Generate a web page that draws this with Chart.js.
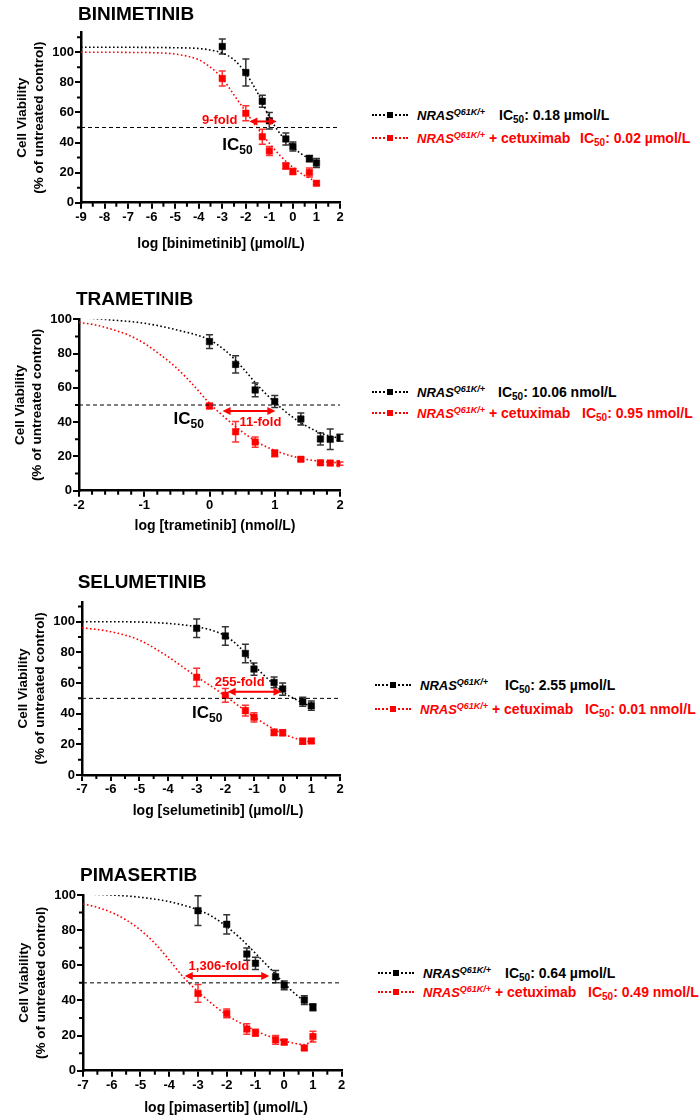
<!DOCTYPE html>
<html>
<head>
<meta charset="utf-8">
<script src="https://cdn.jsdelivr.net/npm/chart.js@4.4.1/dist/chart.umd.min.js"></script>
<style>
  body { margin: 0; background: #fff; width: 700px; height: 1120px; position: relative; overflow: hidden;
         font-family: "Liberation Sans", Arial, Helvetica, sans-serif; }
  canvas { position: absolute; left: 0; }
  .row { position: absolute; height: 18px; line-height: 18px; font-weight: bold; font-size: 14px; white-space: nowrap; color: #000; }
  .row.red { color: #ff0000; }
  .mk { position: absolute; left: 0; top: 8px; width: 36px; border-top: 2px dotted currentColor; }
  .mk::after { content: ''; position: absolute; left: 15px; top: -4px; width: 6px; height: 6px; background: currentColor; }
  .nm { position: absolute; top: 0; }
  .nm i { font-size: 13px; }
  .nm sup { font-size: 9px; font-style: italic; line-height: 0; vertical-align: 5px; }
  .ic { position: absolute; top: 0; }
  .ic sub { font-size: 10px; line-height: 0; vertical-align: -3px; }
</style>
</head>
<body>
<canvas id="c1" width="360" height="260" style="top:0px"></canvas>
<canvas id="c2" width="360" height="260" style="top:280px"></canvas>
<canvas id="c3" width="360" height="260" style="top:560px"></canvas>
<canvas id="c4" width="360" height="280" style="top:840px"></canvas>

<!-- legends -->
<div class="row" style="left:372px;top:106px"><span class="mk"></span><span class="nm" style="left:45px"><i>NRAS</i><sup>Q61K/+</sup></span><span class="ic" style="left:127px">IC<sub>50</sub>: 0.18 µmol/L</span></div>
<div class="row red" style="left:372px;top:129px"><span class="mk"></span><span class="nm" style="left:45px"><i>NRAS</i><sup>Q61K/+</sup> + cetuximab</span><span class="ic" style="left:208px">IC<sub>50</sub>: 0.02 µmol/L</span></div>

<div class="row" style="left:372px;top:383px"><span class="mk"></span><span class="nm" style="left:45px"><i>NRAS</i><sup>Q61K/+</sup></span><span class="ic" style="left:126px">IC<sub>50</sub>: 10.06 nmol/L</span></div>
<div class="row red" style="left:372px;top:404px"><span class="mk"></span><span class="nm" style="left:45px"><i>NRAS</i><sup>Q61K/+</sup> + cetuximab</span><span class="ic" style="left:210px">IC<sub>50</sub>: 0.95 nmol/L</span></div>

<div class="row" style="left:375px;top:676px"><span class="mk"></span><span class="nm" style="left:45px"><i>NRAS</i><sup>Q61K/+</sup></span><span class="ic" style="left:130px">IC<sub>50</sub>: 2.55 µmol/L</span></div>
<div class="row red" style="left:375px;top:700px"><span class="mk"></span><span class="nm" style="left:45px"><i>NRAS</i><sup>Q61K/+</sup> + cetuximab</span><span class="ic" style="left:210px">IC<sub>50</sub>: 0.01 nmol/L</span></div>

<div class="row" style="left:378px;top:964px"><span class="mk"></span><span class="nm" style="left:45px"><i>NRAS</i><sup>Q61K/+</sup></span><span class="ic" style="left:127px">IC<sub>50</sub>: 0.64 µmol/L</span></div>
<div class="row red" style="left:378px;top:983px"><span class="mk"></span><span class="nm" style="left:45px"><i>NRAS</i><sup>Q61K/+</sup> + cetuximab</span><span class="ic" style="left:210px">IC<sub>50</sub>: 0.49 nmol/L</span></div>

<script>
// log doses used in the panels
const doseX = [-3, -2, -1.3, -1, -0.3, 0, 0.7, 1];
const trameX = [0, 0.4, 0.7, 1, 1.4, 1.7, 1.85, 2];

// Binimetinib
const binBlack = [103.8, 86.5, 67.4, 54.5, 42.4, 37.3, 29.3, 26.4];
const binBlackErr = [5, 9, 4, 5.5, 4, 3, 2, 3];
const binRed = [82.5, 59.4, 43.9, 34.4, 24.4, 20.8, 20.0, 12.9];
const binRedErr = [5, 5, 5, 3, 2, 2, 3, 1];
const binCurveX = [-9, -8, -7, -6, -5, -4, -3.5, -3, -2.5, -2, -1.5, -1, -0.5, 0, 0.5, 1];
const binCurveBlack = [103.3, 103.3, 103.3, 103.2, 103.0, 102.5, 101.5, 99.5, 95, 86, 73, 57, 45, 37, 31, 27.5];
const binCurveRed = [100, 100, 99.9, 99.7, 98.8, 95, 90, 82.7, 71.6, 60.5, 49.4, 39.5, 30.6, 23.5, 18, 14];

// Trametinib
const traBlack = [87, 73.7, 58.8, 52, 41.8, 30.2, 30, 30.9];
const traBlackErr = [4, 5, 4, 3.5, 3.5, 3.5, 6, 2];
const traRed = [49.4, 34.4, 28.4, 21.8, 18.3, 16.3, 16.1, 15.8];
const traRedErr = [1.5, 6, 3, 2, 1, 1, 1, 1];
const traCurveBlackX = [-1.85, -1.5, -1, -0.5, 0, 0.25, 0.5, 0.75, 1, 1.25, 1.5, 1.75, 2];
const traCurveBlack = [100.6, 99.6, 97.7, 93.8, 88, 81.5, 72, 61, 51.6, 43.6, 37.4, 33, 30.5];
const traCurveRedX = [-2, -1.75, -1.5, -1.25, -1, -0.75, -0.5, -0.25, 0, 0.25, 0.5, 0.75, 1, 1.25, 1.5, 1.75, 2];
const traCurveRed = [98.2, 96.7, 94.2, 90.9, 86, 79.2, 71.4, 61.7, 51, 42.2, 34.4, 28.0, 23.5, 20.3, 18.2, 16.9, 16.2];

// Selumetinib
const selBlack = [95.7, 90.7, 79.3, 69.1, 60.4, 56.1, 47.8, 45.2];
const selBlackErr = [6, 6, 6, 4, 3.5, 4, 3, 3];
const selRed = [63.7, 52, 42, 37.6, 27.8, 27.6, 22, 22.2];
const selRedErr = [6, 4.5, 3.5, 3, 2, 2, 2, 1.5];
const selCurveBlackX = [-7, -6, -5, -4, -3, -2.5, -2, -1.5, -1, -0.5, 0, 0.5, 1];
const selCurveBlack = [100, 100, 99.8, 98.9, 96.7, 94.6, 90.7, 83.3, 71.7, 62.4, 54.3, 48.9, 44.6];
const selCurveRedX = [-7, -6, -5, -4, -3.5, -3, -2.5, -2, -1.5, -1, -0.5, 0, 0.5, 1];
const selCurveRed = [96.1, 93.5, 88, 77.2, 70.7, 64.1, 58, 51.5, 44.6, 38, 32.0, 27.0, 23.6, 21.4];

// Pimasertib
const pimBlack = [91.1, 83.3, 66.4, 61.1, 53.5, 48.6, 40.2, 36.1];
const pimBlackErr = [8.5, 5.5, 3.5, 3.5, 3.5, 2.5, 2.5, 2];
const pimRed = [44, 32.6, 23.7, 21.6, 17.6, 16.3, 12.9, 19.4];
const pimRedErr = [5, 2.5, 3, 2, 2.5, 1.5, 1, 3];
const pimCurveBlackX = [-6.75, -6, -5, -4, -3, -2.5, -2, -1.5, -1, -0.5, 0, 0.5, 1];
const pimCurveBlack = [100.5, 100, 98.7, 96.2, 91.5, 87.7, 82, 75, 66.8, 58.3, 49.7, 42.1, 36.4];
const pimCurveRedX = [-7, -6.5, -6, -5.5, -5, -4.5, -4, -3.5, -3, -2.5, -2, -1.5, -1, -0.5, 0, 0.5, 0.7, 1];
const pimCurveRed = [94.9, 93, 90, 85.8, 80, 72.5, 63, 53.1, 45, 38, 31.7, 26.9, 22.8, 19.4, 16.9, 15.2, 14.8, 17.5];

const FONT = '"Liberation Sans", Arial, Helvetica, sans-serif';
const RED = '#ff0000';

function pts(xs, ys) {
    return xs.map((x, i) => ({ x: x, y: ys[i] }));
}

function tickList(min, max, step) {
    const out = [];
    for (let v = min; v <= max + 1e-9; v += step) out.push(Math.round(v * 100) / 100);
    return out;
}

const isMajorX = v => Math.abs(v - Math.round(v)) < 1e-6;
const isMajorY = v => v % 20 === 0;

// error bars, minor ticks, fold arrow, IC50 label and panel texts
const annotate = {
    id: 'annotate',
    beforeDatasetsDraw(chart) {
        const { ctx } = chart;
        const xs = chart.scales.x, ys = chart.scales.y;
        chart.data.datasets.forEach(ds => {
            if (!ds.errs) return;
            ctx.save();
            ctx.strokeStyle = ds.errColor;
            ctx.lineWidth = 1.5;
            ds.data.forEach((p, i) => {
                const px = xs.getPixelForValue(p.x);
                const t = ys.getPixelForValue(p.y + ds.errs[i]);
                const b = ys.getPixelForValue(p.y - ds.errs[i]);
                ctx.beginPath();
                ctx.moveTo(px, t); ctx.lineTo(px, b);
                ctx.moveTo(px - 3.5, t); ctx.lineTo(px + 3.5, t);
                ctx.moveTo(px - 3.5, b); ctx.lineTo(px + 3.5, b);
                ctx.stroke();
            });
            ctx.restore();
        });
    },
    afterDatasetsDraw(chart, args, opts) {
        const { ctx, chartArea } = chart;
        const xs = chart.scales.x, ys = chart.scales.y;
        ctx.save();
        // minor ticks
        ctx.strokeStyle = '#000';
        ctx.lineWidth = 2;
        ctx.beginPath();
        opts.xMinor.forEach(v => {
            const px = xs.getPixelForValue(v);
            ctx.moveTo(px, chartArea.bottom); ctx.lineTo(px, chartArea.bottom + 4);
        });
        opts.yMinor.forEach(v => {
            const py = ys.getPixelForValue(v);
            ctx.moveTo(chartArea.left, py); ctx.lineTo(chartArea.left - 4, py);
        });
        ctx.stroke();
        // double arrow
        const a = opts.arrow;
        const x1 = xs.getPixelForValue(a.from), x2 = xs.getPixelForValue(a.to), yy = ys.getPixelForValue(a.y);
        ctx.strokeStyle = RED; ctx.fillStyle = RED; ctx.lineWidth = 2;
        ctx.beginPath(); ctx.moveTo(x1 + 5, yy); ctx.lineTo(x2 - 5, yy); ctx.stroke();
        ctx.beginPath(); ctx.moveTo(x1, yy); ctx.lineTo(x1 + 8, yy - 4); ctx.lineTo(x1 + 8, yy + 4); ctx.closePath(); ctx.fill();
        ctx.beginPath(); ctx.moveTo(x2, yy); ctx.lineTo(x2 - 8, yy - 4); ctx.lineTo(x2 - 8, yy + 4); ctx.closePath(); ctx.fill();
        // fold text
        const f = opts.fold;
        ctx.font = 'bold 13px ' + FONT;
        ctx.textAlign = f.align;
        ctx.textBaseline = 'middle';
        ctx.fillText(f.text, xs.getPixelForValue(f.x), ys.getPixelForValue(f.y));
        // IC50 label
        if (opts.ic) {
            const ix = xs.getPixelForValue(opts.ic.x), iy = ys.getPixelForValue(opts.ic.y);
            ctx.fillStyle = '#000';
            ctx.textAlign = 'left';
            ctx.textBaseline = 'alphabetic';
            ctx.font = 'bold 17px ' + FONT;
            ctx.fillText('IC', ix, iy + 6);
            const w = ctx.measureText('IC').width;
            ctx.font = 'bold 12px ' + FONT;
            ctx.fillText('50', ix + w, iy + 10);
        }
        ctx.restore();
    },
    afterDraw(chart, args, opts) {
        const { ctx, chartArea } = chart;
        ctx.save();
        ctx.fillStyle = '#000';
        ctx.textBaseline = 'middle';
        ctx.font = 'bold 19px ' + FONT;
        ctx.textAlign = 'left';
        ctx.fillText(opts.title, opts.titleX, opts.titleY);
        ctx.font = 'bold 14px ' + FONT;
        ctx.textAlign = 'center';
        ctx.fillText(opts.xTitle, opts.xTitleX, opts.xTitleY);
        const cy = (chartArea.top + chartArea.bottom) / 2;
        ctx.translate(chartArea.left - 59, cy);
        ctx.rotate(-Math.PI / 2);
        ctx.font = 'bold 13.5px ' + FONT;
        ctx.fillText('Cell Viability', 0, 0);
        ctx.fillText('(% of untreated control)', 0, 17);
        ctx.restore();
    }
};

function makePanel(p) {
    const canvas = document.getElementById(p.id);
    const tickFont = { family: FONT, size: 13, weight: 'bold' };
    const xAll = tickList(p.xMin, p.xMax, p.xStep);
    const yAll = tickList(0, p.yMax, 10);
    const xMajor = xAll.filter(isMajorX), yMajor = yAll.filter(isMajorY);
    p.notes.xMinor = xAll.filter(v => !isMajorX(v));
    p.notes.yMinor = yAll.filter(v => !isMajorY(v));

    return new Chart(canvas, {
        type: 'scatter',
        data: {
            datasets: [
                {
                    data: pts([p.xMin, p.xMax], [50, 50]),
                    showLine: true, borderColor: '#000', borderWidth: 1, borderDash: [4, 3],
                    pointRadius: 0
                },
                {
                    data: pts(p.curveBlackX, p.curveBlack),
                    showLine: true, borderColor: '#000', borderWidth: 1.6, borderDash: [1.6, 2.4],
                    pointRadius: 0, cubicInterpolationMode: 'monotone'
                },
                {
                    data: pts(p.curveRedX, p.curveRed),
                    showLine: true, borderColor: RED, borderWidth: 1.6, borderDash: [1.6, 2.4],
                    pointRadius: 0, cubicInterpolationMode: 'monotone'
                },
                {
                    data: pts(p.ptsX, p.black), errs: p.blackErr, errColor: '#333',
                    pointStyle: 'rect', pointRadius: 4.6, backgroundColor: '#000', borderColor: '#000', borderWidth: 0.5
                },
                {
                    data: pts(p.ptsX, p.red), errs: p.redErr, errColor: '#ff3030',
                    pointStyle: 'rect', pointRadius: 4.6, backgroundColor: RED, borderColor: RED, borderWidth: 0.5
                }
            ]
        },
        options: {
            responsive: false,
            animation: false,
            layout: { padding: { top: p.top, right: 360 - p.right, left: 0, bottom: 0 } },
            plugins: {
                legend: { display: false },
                tooltip: { enabled: false },
                annotate: p.notes
            },
            scales: {
                x: {
                    type: 'linear', min: p.xMin, max: p.xMax,
                    afterBuildTicks: s => { s.ticks = xMajor.map(v => ({ value: v })); },
                    afterFit: s => { s.height = canvas.height - p.bottom; },
                    ticks: {
                        autoSkip: false, maxRotation: 0, padding: 1, color: '#000', font: tickFont,
                        callback: v => String(Math.round(v))
                    },
                    grid: { drawOnChartArea: false, drawTicks: true, tickLength: 6, color: '#000', lineWidth: 2 },
                    border: { color: '#000', width: 2.5 }
                },
                y: {
                    type: 'linear', min: 0, max: p.yMax,
                    afterBuildTicks: s => { s.ticks = yMajor.map(v => ({ value: v })); },
                    afterFit: s => { s.width = p.left; },
                    ticks: {
                        autoSkip: false, padding: 1, color: '#000', font: tickFont,
                        callback: v => String(v)
                    },
                    grid: { drawOnChartArea: false, drawTicks: true, tickLength: 6, color: '#000', lineWidth: 2 },
                    border: { color: '#000', width: 2.5 }
                }
            }
        },
        plugins: [annotate]
    });
}

makePanel({
    id: 'c1', left: 81, right: 340, top: 32.7, bottom: 202.7,
    xMin: -9, xMax: 2, xStep: 0.5, yMax: 113,
    ptsX: doseX, black: binBlack, blackErr: binBlackErr, red: binRed, redErr: binRedErr,
    curveBlackX: binCurveX, curveBlack: binCurveBlack, curveRedX: binCurveX, curveRed: binCurveRed,
    notes: {
        title: 'BINIMETINIB', titleX: 78, titleY: 15,
        xTitle: 'log [binimetinib] (µmol/L)', xTitleX: 221, xTitleY: 244,
        arrow: { from: -1.85, to: -0.69, y: 54 },
        fold: { text: '9-fold', x: -2.36, y: 55, align: 'right' },
        ic: { x: -3, y: 39 }
    }
});

makePanel({
    id: 'c2', left: 79, right: 340, top: 39.3, bottom: 210.7,
    xMin: -2, xMax: 2, xStep: 0.2, yMax: 100,
    ptsX: trameX, black: traBlack, blackErr: traBlackErr, red: traRed, redErr: traRedErr,
    curveBlackX: traCurveBlackX, curveBlack: traCurveBlack, curveRedX: traCurveRedX, curveRed: traCurveRed,
    notes: {
        title: 'TRAMETINIB', titleX: 76, titleY: 20,
        xTitle: 'log [trametinib] (nmol/L)', xTitleX: 215, xTitleY: 246,
        arrow: { from: 0.2, to: 1.01, y: 46.5 },
        fold: { text: '11-fold', x: 0.78, y: 39.7, align: 'center' },
        ic: { x: -0.55, y: 42.2 }
    }
});

makePanel({
    id: 'c3', left: 82, right: 340, top: 41.8, bottom: 215,
    xMin: -7, xMax: 2, xStep: 0.5, yMax: 113,
    ptsX: doseX, black: selBlack, blackErr: selBlackErr, red: selRed, redErr: selRedErr,
    curveBlackX: selCurveBlackX, curveBlack: selCurveBlack, curveRedX: selCurveRedX, curveRed: selCurveRed,
    notes: {
        title: 'SELUMETINIB', titleX: 77.7, titleY: 23,
        xTitle: 'log [selumetinib] (µmol/L)', xTitleX: 218, xTitleY: 250.7,
        arrow: { from: -1.92, to: -0.04, y: 54.3 },
        fold: { text: '255-fold', x: -1.5, y: 60.2, align: 'center' },
        ic: { x: -3.16, y: 41.3 }
    }
});

makePanel({
    id: 'c4', left: 83, right: 341.7, top: 55, bottom: 230.7,
    xMin: -7, xMax: 2, xStep: 0.5, yMax: 100,
    ptsX: doseX, black: pimBlack, blackErr: pimBlackErr, red: pimRed, redErr: pimRedErr,
    curveBlackX: pimCurveBlackX, curveBlack: pimCurveBlack, curveRedX: pimCurveRedX, curveRed: pimCurveRed,
    notes: {
        title: 'PIMASERTIB', titleX: 80, titleY: 36,
        xTitle: 'log [pimasertib] (µmol/L)', xTitleX: 226, xTitleY: 268,
        arrow: { from: -3.46, to: -0.52, y: 53.9 },
        fold: { text: '1,306-fold', x: -2.27, y: 59.2, align: 'center' },
        ic: null
    }
});
</script>
</body>
</html>
